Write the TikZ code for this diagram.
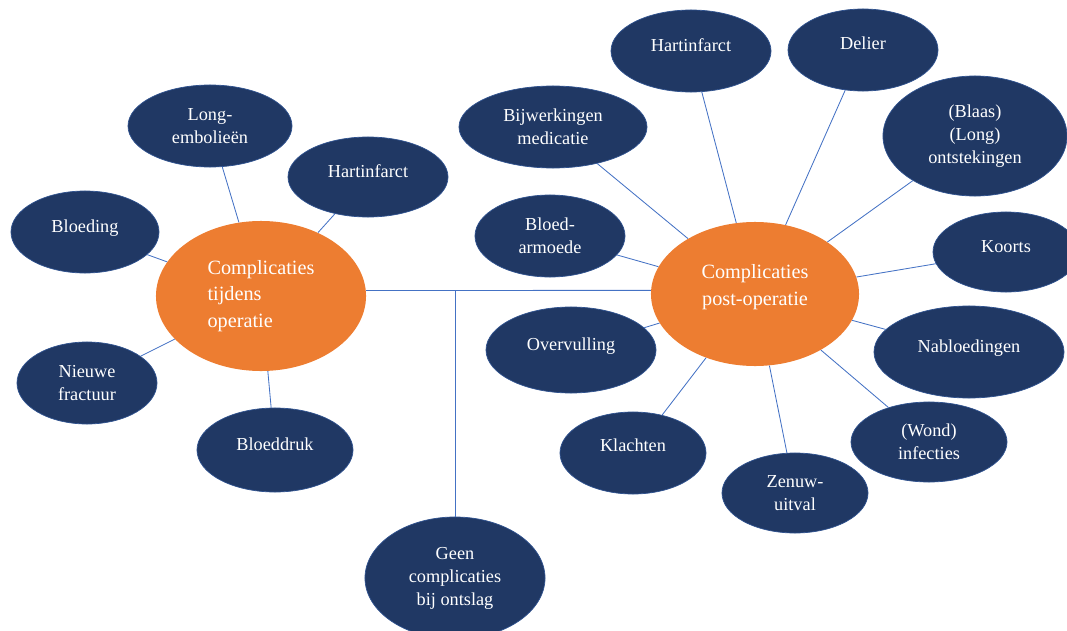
\documentclass[tikz,border=0pt]{standalone}
\usepackage{fontspec}
\setmainfont{Liberation Serif}
\usetikzlibrary{shapes.geometric}
\definecolor{navy}{HTML}{203864}
\definecolor{navyline}{HTML}{2F528F}
\definecolor{hubfill}{HTML}{ED7D31}
\definecolor{linkblue}{HTML}{4472C4}
\tikzset{
  sat/.style={ellipse, fill=navy, draw=navyline, line width=0.5pt, inner sep=0pt,
    text=white, align=center, font=\fontsize{13}{16.3}\selectfont},
  oneline/.style={text height=9pt, text depth=9pt},
  hub/.style={ellipse, fill=hubfill, inner sep=0pt, text=white,
    font=\fontsize{14.4}{18.6}\selectfont},
  hubtext/.style={text=white, align=center, inner sep=0pt,
    font=\fontsize{14.4}{19.2}\selectfont},
  link/.style={draw=linkblue, line width=0.6pt}
}
\begin{document}
\begin{tikzpicture}[x=0.025cm, y=-0.025cm]
\useasboundingbox (0,0) rectangle (1067,631);

% hubs
\node[hub, align=left, minimum width=5.25cm, minimum height=3.75cm] (tijdens) at (261,296) {Complicaties\\tijdens\\operatie};
\node[hub, minimum width=5.2cm, minimum height=3.6cm,
  label={[hubtext, yshift=5pt]center:Complicaties\\post-operatie}] (post) at (755,294) {};

% tijdens operatie
\node[sat, minimum width=4.1cm, minimum height=2.05cm] (longemb) at (210,126) {Long-\\embolieën};
\node[sat, oneline, minimum width=4cm, minimum height=2cm] (hartL) at (368,177) {Hartinfarct};
\node[sat, oneline, minimum width=3.7cm, minimum height=2.05cm] (bloeding) at (85,232) {Bloeding};
\node[sat, minimum width=3.5cm, minimum height=2.05cm] (fractuur) at (87,383) {Nieuwe\\fractuur};
\node[sat, oneline, minimum width=3.9cm, minimum height=2.1cm] (bloeddruk) at (275,450) {Bloeddruk};

% bij ontslag
\node[sat, minimum width=4.5cm, minimum height=3.05cm] (geen) at (455,578) {Geen\\complicaties\\bij ontslag};

% post-operatie
\node[sat, minimum width=4.7cm, minimum height=2.05cm] (bijwerk) at (553,127) {Bijwerkingen\\medicatie};
\node[sat, oneline, minimum width=4cm, minimum height=2.05cm] (hartR) at (691,51) {Hartinfarct};
\node[sat, oneline, minimum width=3.75cm, minimum height=2.05cm] (delier) at (863,50) {Delier};
\node[sat, minimum width=4.6cm, minimum height=3cm] (ontsteking) at (975,136) {(Blaas)\\(Long)\\ontstekingen};
\node[sat, minimum width=3.75cm, minimum height=2.05cm] (armoede) at (550,236) {Bloed-\\armoede};
\node[sat, oneline, minimum width=3.65cm, minimum height=2cm] (koorts) at (1006,252) {Koorts};
\node[sat, oneline, minimum width=4.25cm, minimum height=2.15cm] (overvulling) at (571,350) {Overvulling};
\node[sat, oneline, minimum width=4.75cm, minimum height=2.3cm] (nabloed) at (969,352) {Nabloedingen};
\node[sat, oneline, text depth=11pt, minimum width=3.65cm, minimum height=2.05cm] (klachten) at (633,453) {Klachten};
\node[sat, minimum width=3.9cm, minimum height=2cm] (infecties) at (929,442) {(Wond)\\infecties};
\node[sat, minimum width=3.65cm, minimum height=2cm] (zenuw) at (795,493) {Zenuw-\\uitval};

% connectors
\draw[link] (tijdens.3) -- (post.178);
\draw[link] (geen) -- (geen |- tijdens.3);
\draw[link] (tijdens) -- (longemb);
\draw[link] (tijdens) -- (hartL);
\draw[link] (tijdens) -- (bloeding);
\draw[link] (tijdens) -- (fractuur);
\draw[link] (tijdens) -- (bloeddruk);
\draw[link] (post) -- (bijwerk);
\draw[link] (post) -- (hartR);
\draw[link] (post) -- (delier);
\draw[link] (post) -- (ontsteking);
\draw[link] (post) -- (armoede);
\draw[link] (post) -- (koorts);
\draw[link] (post) -- (overvulling);
\draw[link] (post) -- (nabloed);
\draw[link] (post) -- (klachten);
\draw[link] (post) -- (infecties);
\draw[link] (post) -- (zenuw);
\end{tikzpicture}
\end{document}
